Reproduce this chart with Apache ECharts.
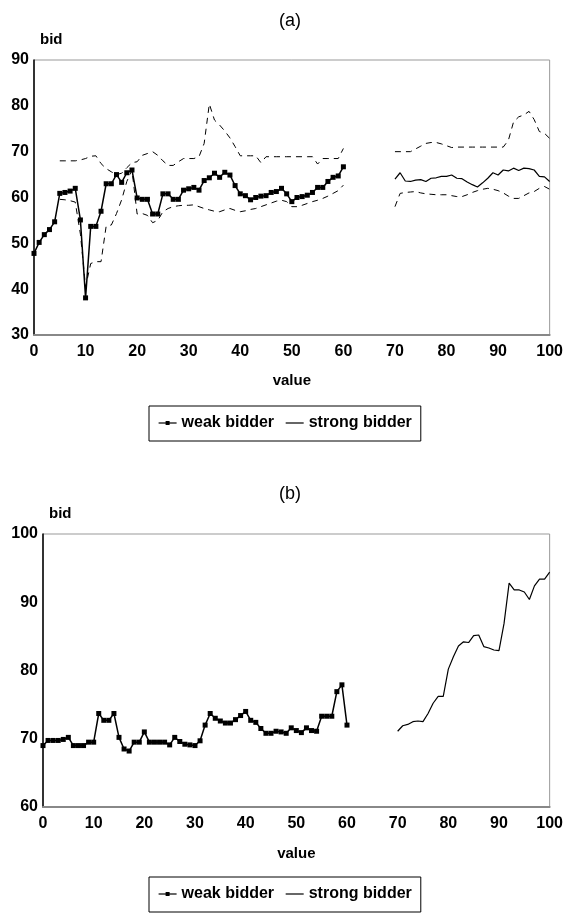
<!DOCTYPE html>
<html>
<head>
<meta charset="utf-8">
<title>bids</title>
<script src="https://cdn.jsdelivr.net/npm/echarts@6/dist/echarts.min.js"></script>
<style>
  body { margin: 0; background: #fff; }
  #chart { width: 566px; height: 921px; }
</style>
</head>
<body>
<div id="chart"></div>
<script>
// (a) weak bidder, value 0..60
var weakA = [47.8, 50.2, 51.9, 53.0, 54.7, 60.9, 61.1, 61.4, 62.0, 55.1,
  38.1, 53.7, 53.7, 57.0, 63.0, 63.0, 65.0, 63.3, 65.4, 66.0,
  59.9, 59.6, 59.6, 56.4, 56.4, 60.8, 60.8, 59.6, 59.6, 61.6,
  61.9, 62.2, 61.6, 63.7, 64.3, 65.3, 64.4, 65.5, 64.9, 62.6,
  60.8, 60.4, 59.5, 60.0, 60.3, 60.4, 61.1, 61.3, 62.0, 60.8,
  59.1, 60.0, 60.2, 60.5, 61.1, 62.2, 62.2, 63.5, 64.4, 64.7, 66.7];
// (a) strong bidder, value 70..100
var strongA = [64.0, 65.4, 63.6, 63.5, 63.8, 63.9, 63.5, 64.2, 64.3, 64.6,
  64.6, 64.9, 64.2, 64.1, 63.4, 62.8, 62.3, 63.2, 64.2, 65.4,
  64.9, 66.0, 65.8, 66.4, 65.9, 66.4, 66.3, 66.0, 64.6, 64.5, 63.5];
// (a) dashed bands, value 5..60
var upperA1 = [68.0, 68.0, 68.0, 68.0, 68.2, 68.5, 69.0, 69.1, 67.4, 66.3,
  65.6, 65.0, 65.3, 66.5, 67.6, 67.8, 69.2, 69.6, 70.0, 69.2,
  68.0, 67.0, 67.0, 67.8, 68.5, 68.5, 68.5, 68.9, 71.8, 80.4,
  76.9, 75.8, 74.5, 73.0, 71.1, 69.1, 69.1, 69.1, 69.1, 67.6,
  68.9, 68.9, 68.9, 68.9, 68.9, 68.9, 68.9, 68.9, 68.9, 68.9,
  67.3, 68.5, 68.5, 68.5, 68.5, 70.7];
var lowerA1 = [59.6, 59.5, 59.3, 59.0, 52.0, 40.5, 45.6, 46.0, 46.0, 53.8,
  54.0, 56.5, 59.5, 63.5, 66.0, 56.4, 56.5, 56.1, 54.5, 55.0,
  56.9, 57.6, 58.0, 58.2, 58.3, 58.3, 58.4, 58.0, 57.6, 57.3,
  57.0, 56.9, 57.3, 57.6, 57.2, 56.9, 57.1, 57.4, 57.6, 58.0,
  58.4, 58.8, 59.2, 59.4, 59.1, 58.0, 58.0, 58.3, 58.7, 59.1,
  59.4, 59.8, 60.3, 60.9, 61.5, 62.7];
// (a) dashed bands, value 70..100
var upperA2 = [70.0, 70.0, 70.0, 70.0, 70.6, 71.2, 71.8, 72.0, 72.0, 71.7,
  71.3, 70.9, 71.0, 71.0, 71.0, 71.0, 71.0, 71.0, 71.0, 71.0,
  71.0, 71.0, 72.5, 76.5, 77.6, 78.0, 78.8, 77.0, 74.4, 74.0, 72.9];
var lowerA2 = [58.0, 60.9, 61.1, 61.2, 61.3, 61.0, 60.8, 60.7, 60.6, 60.6,
  60.6, 60.4, 60.2, 60.2, 60.6, 61.1, 61.5, 61.8, 62.0, 61.8,
  61.5, 61.0, 60.3, 59.8, 59.8, 60.4, 61.0, 61.3, 62.0, 62.4, 61.8];

// (b) weak bidder, value 0..60
var weakB = [69.0, 69.75, 69.75, 69.75, 69.9, 70.2, 69.0, 69.0, 69.0, 69.5,
  69.5, 73.7, 72.7, 72.7, 73.7, 70.2, 68.5, 68.2, 69.5, 69.5,
  71.0, 69.5, 69.5, 69.5, 69.5, 69.1, 70.2, 69.6, 69.2, 69.1,
  69.0, 69.7, 72.0, 73.7, 73.0, 72.6, 72.3, 72.3, 72.8, 73.4,
  74.0, 72.7, 72.4, 71.5, 70.8, 70.8, 71.1, 71.0, 70.8, 71.6,
  71.2, 70.9, 71.6, 71.2, 71.1, 73.3, 73.3, 73.3, 76.9, 77.9, 72.0];
// (b) strong bidder, value 70..100
var strongB = [71.1, 71.9, 72.1, 72.5, 72.6, 72.5, 73.7, 75.2, 76.2, 76.2,
  80.2, 82.0, 83.6, 84.2, 84.1, 85.1, 85.2, 83.5, 83.3, 83.0,
  82.9, 86.9, 92.8, 91.8, 91.8, 91.5, 90.4, 92.4, 93.4, 93.4, 94.4];

var xTicks = [0, 100, 10];
var yTicksA = [30, 90, 10];
var yTicksB = [60, 100, 10];

function pairs(start, arr) {
  var out = [];
  for (var i = 0; i < arr.length; i++) {
    out.push([start + i, arr[i]]);
  }
  return out;
}

var font = 'Liberation Sans, Arial, Helvetica, sans-serif';
var tick = { fontFamily: font, fontSize: 16, fontWeight: 'bold', color: '#000' };

function xAxis(idx) {
  return {
    type: 'value', gridIndex: idx, min: xTicks[0], max: xTicks[1], interval: xTicks[2],
    name: 'value', nameLocation: 'middle', nameGap: idx == 0 ? 38 : 39,
    nameTextStyle: { fontFamily: font, fontSize: 15, fontWeight: 'bold', color: '#000' },
    axisLine: { show: true, onZero: false, lineStyle: { color: '#888', width: 2 } },
    axisTick: { show: false },
    splitLine: { show: false },
    axisLabel: Object.assign({ margin: 9 }, tick)
  };
}

function yAxis(idx, t) {
  return {
    type: 'value', gridIndex: idx, min: t[0], max: t[1], interval: t[2],
    name: 'bid', nameLocation: 'end', nameGap: 13,
    nameTextStyle: { fontFamily: font, fontSize: 15, fontWeight: 'bold', color: '#000', align: 'left', padding: [0, 0, 0, 6] },
    axisLine: { show: true, lineStyle: { color: '#000', width: 1.5 } },
    axisTick: { show: false },
    splitLine: { show: false },
    axisLabel: Object.assign({ margin: 5 }, tick)
  };
}

function weak(idx, arr) {
  return {
    name: 'weak bidder', type: 'line', xAxisIndex: idx, yAxisIndex: idx,
    data: pairs(0, arr), symbol: 'rect', symbolSize: 5, showSymbol: true,
    itemStyle: { color: '#000' }, lineStyle: { color: '#000', width: 1.5 }
  };
}

function strong(idx, arr) {
  return {
    name: 'strong bidder', type: 'line', xAxisIndex: idx, yAxisIndex: idx,
    data: pairs(70, arr), symbol: 'none',
    itemStyle: { color: '#000' }, lineStyle: { color: '#000', width: 1.2 }
  };
}

function band(name, start, arr) {
  return {
    name: name, type: 'line', xAxisIndex: 0, yAxisIndex: 0,
    data: pairs(start, arr), symbol: 'none',
    lineStyle: { color: '#000', width: 1, type: [6, 5] }
  };
}

function legend(top) {
  return {
    data: [
      { name: 'weak bidder' },
      { name: 'strong bidder', itemStyle: { color: 'rgba(0,0,0,0)', borderWidth: 0, opacity: 0 } }
    ],
    left: 149, top: top, orient: 'horizontal',
    itemWidth: 18, itemHeight: 5, itemGap: 11,
    padding: [8, 9, 9, 9], borderColor: '#000', borderWidth: 1,
    lineStyle: { width: 1.2 },
    textStyle: { fontFamily: font, fontSize: 16, fontWeight: 'bold', color: '#000', lineHeight: 18 },
    selectedMode: false
  };
}

var chart = echarts.init(document.getElementById('chart'));
chart.setOption({
  animation: false,
  backgroundColor: '#fff',
  title: [
    { text: '(a)', left: 274, top: 7, textStyle: { fontFamily: font, fontSize: 18, fontWeight: 'normal', color: '#000' } },
    { text: '(b)', left: 274, top: 480, textStyle: { fontFamily: font, fontSize: 18, fontWeight: 'normal', color: '#000' } }
  ],
  grid: [
    { left: 34, top: 60, right: 14, height: 275, show: true, borderColor: '#999', borderWidth: 1 },
    { left: 43, top: 534, right: 14, height: 273, show: true, borderColor: '#999', borderWidth: 1 }
  ],
  xAxis: [xAxis(0), xAxis(1)],
  yAxis: [yAxis(0, yTicksA), yAxis(1, yTicksB)],
  legend: [legend(406), legend(877)],
  series: [
    band('upper', 5, upperA1),
    band('lower', 5, lowerA1),
    band('upper', 70, upperA2),
    band('lower', 70, lowerA2),
    weak(0, weakA),
    strong(0, strongA),
    weak(1, weakB),
    strong(1, strongB)
  ]
});
</script>
</body>
</html>
